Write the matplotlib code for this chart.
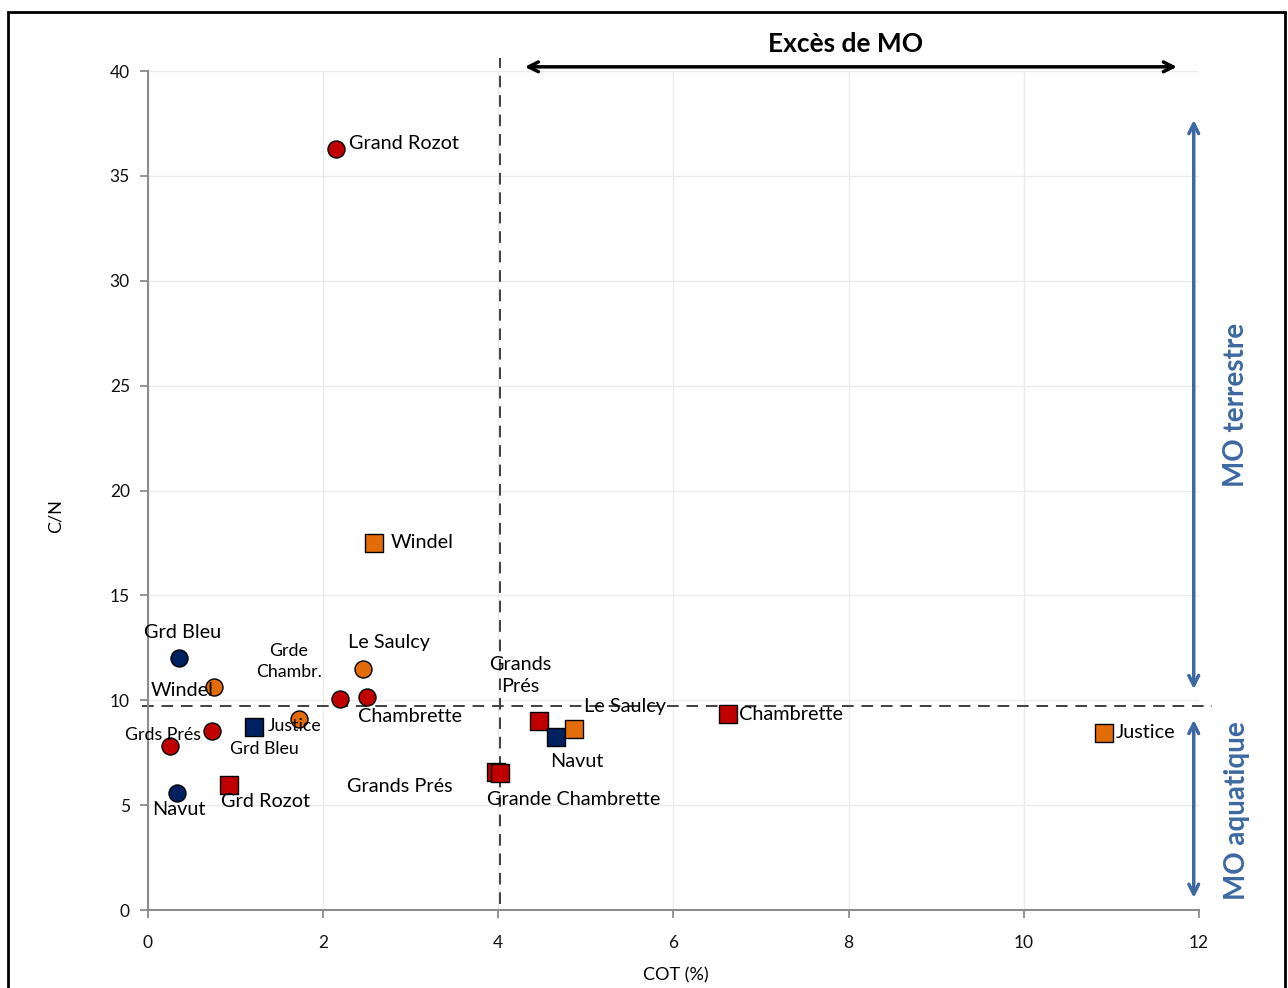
import matplotlib
matplotlib.use("Agg")
import matplotlib.pyplot as plt
from matplotlib.patches import Rectangle

plt.rcParams['font.family'] = ['Lato', 'DejaVu Sans']

# C/N ratio vs total organic carbon (COT) per site, two sampling types
# circles
red_circ_x = [2.15, 0.25, 0.73, 2.19, 2.50]
red_circ_y = [36.3, 7.8, 8.55, 10.05, 10.15]
navy_circ_x = [0.35, 0.33]
navy_circ_y = [12.0, 5.6]
orange_circ_x = [0.75, 1.72, 2.45]
orange_circ_y = [10.65, 9.1, 11.5]
# squares
red_sq_x = [0.93, 3.97, 4.02, 4.46, 6.62]
red_sq_y = [5.95, 6.6, 6.55, 9.0, 9.35]
navy_sq_x = [1.21, 4.66]
navy_sq_y = [8.75, 8.25]
orange_sq_x = [2.58, 4.86, 10.91]
orange_sq_y = [17.5, 8.65, 8.45]

red_circ_lab = ["Grand Rozot", "Grds Prés", "", "Grde\nChambr.", "Chambrette"]
navy_circ_lab = ["Grd Bleu", "Navut"]
orange_circ_lab = ["Windel", "Justice", "Le Saulcy"]
red_sq_lab = ["Grd Rozot", "Grands Prés", "Grande Chambrette", "Grands\nPrés", "Chambrette"]
navy_sq_lab = ["Grd Bleu", "Navut"]
orange_sq_lab = ["Windel", "Le Saulcy", "Justice"]

cot_threshold = 4.02
cn_threshold = 9.75

x_ticks = [0, 2, 4, 6, 8, 10, 12]
y_ticks = [0, 5, 10, 15, 20, 25, 30, 35, 40]

RED = "#C00000"
NAVY = "#002060"
ORANGE = "#E36C09"
BLUE = "#3D68A2"

fig = plt.figure(figsize=(12.88, 9.88), dpi=100)
ax = fig.add_axes([0.1149, 0.0789, 0.816, 0.8492])

ax.set_xlim(0, 12)
ax.set_ylim(0, 40)
ax.set_xticks(x_ticks)
ax.set_yticks(y_ticks)
ax.grid(True, color="#EBEBEB", lw=1)
ax.set_axisbelow(True)
for s in ["top", "right"]:
    ax.spines[s].set_visible(False)
for s in ["left", "bottom"]:
    ax.spines[s].set_color("#8C8C8C")
    ax.spines[s].set_linewidth(1.5)
ax.tick_params(colors="#8C8C8C", length=6, width=1.3, labelsize=12.5, labelcolor="#111111")
ax.tick_params(axis="x", pad=12)
ax.tick_params(axis="y", pad=7)
ax.set_xlabel("COT (%)", fontsize=13)
ax.set_ylabel("C/N", fontsize=13)
ax.xaxis.set_label_coords(0.502, -0.068)
ax.yaxis.set_label_coords(-0.08, 0.47)

# threshold lines
ax.plot([cot_threshold, cot_threshold], [0.3, 40.6], ls=(0, (6, 4)), color="#404040", lw=1.4, clip_on=False, zorder=2)
ax.plot([-0.07, 12.15], [cn_threshold, cn_threshold], ls=(0, (6, 4)), color="#404040", lw=1.4, clip_on=False, zorder=2)

kw = dict(s=150, edgecolors="black", linewidths=1.0, zorder=4, clip_on=False)
ax.scatter(red_circ_x, red_circ_y, c=RED, marker="o", **kw)
ax.scatter(navy_circ_x, navy_circ_y, c=NAVY, marker="o", **kw)
ax.scatter(orange_circ_x, orange_circ_y, c=ORANGE, marker="o", **kw)
ax.scatter(red_sq_x, red_sq_y, c=RED, marker="s", **kw)
ax.scatter(navy_sq_x, navy_sq_y, c=NAVY, marker="s", **kw)
ax.scatter(orange_sq_x, orange_sq_y, c=ORANGE, marker="s", **kw)

# label offsets in pixels (dx, dy, horizontal alignment, size)
BIG, SMALL = 14.3, 12.8
red_circ_off = [(13, 5, "left", BIG), (-7, 11, "center", SMALL), (0, 0, "center", BIG),
                (-51, 38, "center", SMALL), (43, -19, "center", BIG)]
navy_circ_off = [(4, 26, "center", BIG), (2, -17, "center", BIG)]
orange_circ_off = [(-32, -4, "center", BIG), (-4, -7, "center", SMALL), (26, 26, "center", BIG)]
red_sq_off = [(-8, -16, "left", BIG), (-96, -15, "center", BIG), (74, -27, "center", BIG),
              (-18, 46, "center", BIG), (11, -1, "left", BIG)]
navy_sq_off = [(10, -22, "center", SMALL), (21, -24, "center", BIG)]
orange_sq_off = [(17, 0, "left", BIG), (51, 22, "center", BIG), (12, 0, "left", BIG)]

groups = [
    (red_circ_x, red_circ_y, red_circ_lab, red_circ_off),
    (navy_circ_x, navy_circ_y, navy_circ_lab, navy_circ_off),
    (orange_circ_x, orange_circ_y, orange_circ_lab, orange_circ_off),
    (red_sq_x, red_sq_y, red_sq_lab, red_sq_off),
    (navy_sq_x, navy_sq_y, navy_sq_lab, navy_sq_off),
    (orange_sq_x, orange_sq_y, orange_sq_lab, orange_sq_off),
]
for xs, ys, labs, offs in groups:
    for x, y, lab, (dx, dy, ha, fs) in zip(xs, ys, labs, offs):
        if not lab:
            continue
        ax.annotate(lab, (x, y), xytext=(dx, dy), textcoords="offset pixels",
                    ha=ha, va="center", fontsize=fs, zorder=5,
                    linespacing=1.35, annotation_clip=False)

# "Excès de MO" span arrow
ax.annotate("", xy=(11.78, 40.2), xytext=(4.27, 40.2),
            arrowprops=dict(arrowstyle="<->,head_length=0.7,head_width=0.35", color="black", lw=2.5),
            annotation_clip=False)
ax.text(7.96, 41.3, "Excès de MO", ha="center", va="center", fontsize=19, fontweight="bold")

# organic matter origin arrows
ax.annotate("", xy=(11.94, 37.8), xytext=(11.94, 10.4),
            arrowprops=dict(arrowstyle="<->,head_length=0.7,head_width=0.35", color=BLUE, lw=2.5),
            annotation_clip=False)
ax.annotate("", xy=(11.94, 9.2), xytext=(11.94, 0.45),
            arrowprops=dict(arrowstyle="<->,head_length=0.7,head_width=0.35", color=BLUE, lw=2.5),
            annotation_clip=False)
ax.text(12.42, 24.1, "MO terrestre", rotation=90, ha="center", va="center",
        fontsize=20, fontweight="bold", color=BLUE)
ax.text(12.43, 4.75, "MO aquatique", rotation=90, ha="center", va="center",
        fontsize=20, fontweight="bold", color=BLUE)

# outer frame
fig.patches.append(Rectangle((8 / 1288, -0.05), 1277 / 1288, 1 - 12 / 988 + 0.05,
                             transform=fig.transFigure, fill=False, edgecolor="black", lw=2))

fig.savefig("out.png", dpi=100)
